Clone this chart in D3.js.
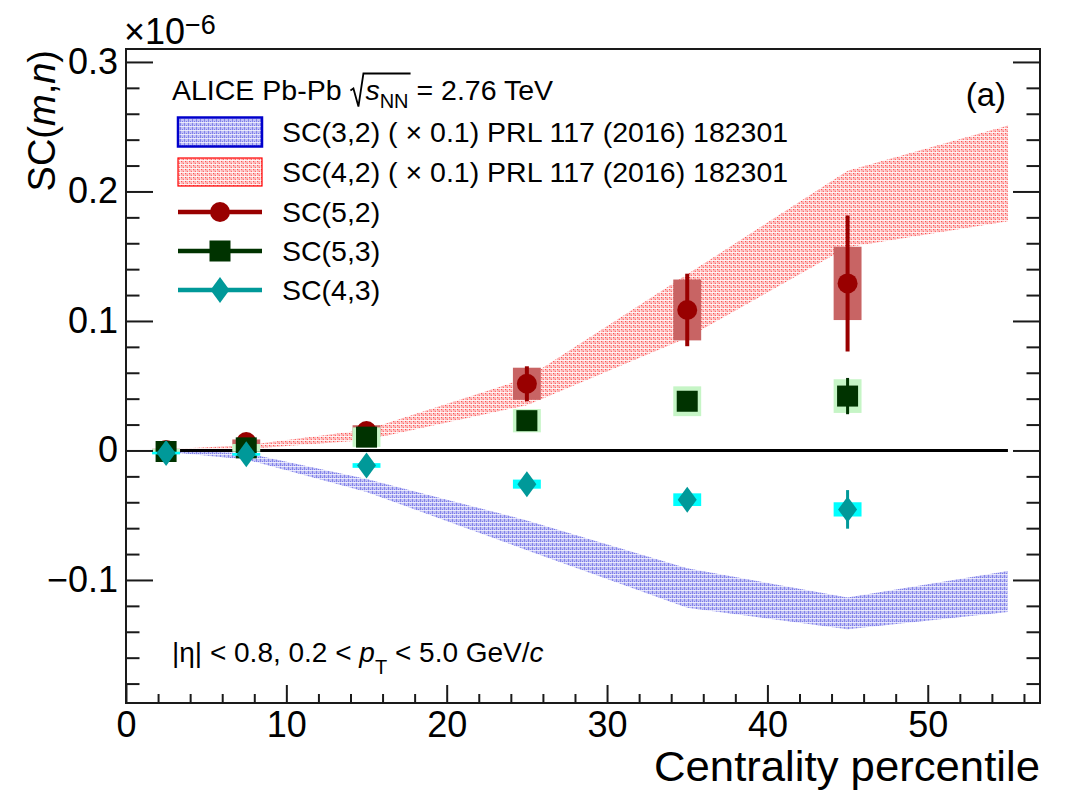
<!DOCTYPE html>
<html>
<head>
<meta charset="utf-8">
<script src="https://cdn.jsdelivr.net/npm/d3@7"></script>
<style>
  html, body { margin: 0; padding: 0; background: #fff; }
  svg { display: block; font-family: "Liberation Sans", Arial, Helvetica, sans-serif; }
</style>
</head>
<body>
<svg id="chart" width="1069" height="791"></svg>
<script>
// ---- measured symmetric cumulants (units of 1e-6) ----
const centrality = [2.5, 7.5, 15, 25, 35, 45];

const sc52     = [0.0003, 0.0065, 0.015, 0.0515, 0.1085, 0.129];
const sc52Stat = [0.001, 0.002, 0.003, 0.0135, 0.028, 0.0525];
const sc52Sys  = [0.001, 0.002, 0.0045, 0.0124, 0.0235, 0.0283];

const sc53     = [-0.0008, 0.002, 0.0103, 0.023, 0.038, 0.042];
const sc53Stat = [0.001, 0.001, 0.002, 0.003, 0.005, 0.014];
const sc53Sys  = [0.002, 0.003, 0.0075, 0.009, 0.0115, 0.013];

const sc43     = [-0.002, -0.003, -0.0116, -0.026, -0.038, -0.0455];
const sc43Stat = [0.001, 0.002, 0.003, 0.003, 0.004, 0.0149];
const sc43Sys  = [0.001, 0.001, 0.0018, 0.0035, 0.0049, 0.0055];

// ---- published SC(3,2) and SC(4,2), scaled by 0.1 (band edges) ----
const bandCentrality = [2.5, 7.5, 15, 25, 35, 45, 55];
const sc32Low  = [-0.001, -0.007, -0.032, -0.077, -0.1215, -0.138, -0.1247];
const sc32High = [0, -0.002, -0.022, -0.054, -0.091, -0.1136, -0.093];
const sc42Low  = [0, 0.001, 0.008, 0.035, 0.087, 0.157, 0.177];
const sc42High = [0.001, 0.004, 0.016, 0.056, 0.136, 0.216, 0.251];

// ---- axis ticks ----
const xMajorTicks = [0, 10, 20, 30, 40, 50];
const xTickLabels = ["0", "10", "20", "30", "40", "50"];
const yMajorTicks = [-0.1, 0, 0.1, 0.2, 0.3];
const yTickLabels = ["\u22120.1", "0", "0.1", "0.2", "0.3"];

const legendLabels = [
  "SC(3,2) ( \u00D7 0.1) PRL 117 (2016) 182301",
  "SC(4,2) ( \u00D7 0.1) PRL 117 (2016) 182301",
  "SC(5,2)",
  "SC(5,3)",
  "SC(4,3)"
];

// ---- layout ----
const FONT = '"Liberation Sans", Arial, Helvetica, sans-serif';
const frame = { left: 126, right: 1040, top: 49, bottom: 703 };
const svg = d3.select("#chart");

const x = d3.scaleLinear().domain([0, 57]).range([frame.left, frame.right]);
const y = d3.scaleLinear().domain([-0.195, 0.31]).range([frame.bottom, frame.top]);

const xMinorTicks = d3.range(1, 29).map(k => k * 2).filter(v => v % 10 !== 0);
const yMinorTicks = d3.range(-9, 16).filter(k => k % 5 !== 0).map(k => k * 0.02);

// ---- dotted fill patterns for the bands ----
const defs = svg.append("defs");
const redPat = defs.append("pattern").attr("id", "patRed")
  .attr("patternUnits", "userSpaceOnUse").attr("width", 4).attr("height", 4);
redPat.append("rect").attr("width", 4).attr("height", 4).attr("fill", "#fdb4b4");
redPat.append("rect").attr("x", 1).attr("y", 1).attr("width", 1).attr("height", 1).attr("fill", "#ff5050");
redPat.append("rect").attr("x", 3).attr("y", 3).attr("width", 1).attr("height", 1).attr("fill", "#ff6a6a");
redPat.append("rect").attr("width", 4).attr("height", 1).attr("fill", "#fff").attr("opacity", 0.8);
redPat.append("rect").attr("width", 1).attr("height", 4).attr("fill", "#fff").attr("opacity", 0.55);

const bluePat = defs.append("pattern").attr("id", "patBlue")
  .attr("patternUnits", "userSpaceOnUse").attr("width", 4).attr("height", 4);
bluePat.append("rect").attr("width", 4).attr("height", 4).attr("fill", "#c0c0f5");
bluePat.append("rect").attr("width", 1).attr("height", 4).attr("fill", "#6a6ae4").attr("opacity", 0.7);
bluePat.append("rect").attr("x", 2).attr("y", 1).attr("width", 1).attr("height", 1).attr("fill", "#7a7ae8");
bluePat.append("rect").attr("y", 2).attr("width", 4).attr("height", 1).attr("fill", "#fff").attr("opacity", 0.7);

// ---- bands ----
const bandArea = (lo, hi) => d3.area()
  .x((d, i) => x(bandCentrality[i]))
  .y0((d, i) => y(lo[i]))
  .y1((d, i) => y(hi[i]));

svg.append("path").attr("d", bandArea(sc32Low, sc32High)(bandCentrality))
  .attr("fill", "url(#patBlue)");
svg.append("path").attr("d", bandArea(sc42Low, sc42High)(bandCentrality))
  .attr("fill", "url(#patRed)");

// zero line across the measured range
svg.append("line")
  .attr("x1", x(d3.min(bandCentrality))).attr("x2", x(d3.max(bandCentrality)))
  .attr("y1", y(0)).attr("y2", y(0))
  .attr("stroke", "#000").attr("stroke-width", 3);

// ---- data series ----
const sysHalfWidth = 0.87;
const series = [
  { v: sc52, stat: sc52Stat, sys: sc52Sys, color: "#990000", box: "#c86464", marker: "circle", barW: 4 },
  { v: sc53, stat: sc53Stat, sys: sc53Sys, color: "#003300", box: "#c6f5c6", marker: "square", barW: 3 },
  { v: sc43, stat: sc43Stat, sys: sc43Sys, color: "#009999", box: "#00ffff", marker: "diamond", barW: 3 }
];

function drawMarker(g, type, cx, cy, color) {
  if (type === "circle") {
    g.append("circle").attr("cx", cx).attr("cy", cy).attr("r", 10).attr("fill", color);
  } else if (type === "square") {
    g.append("rect").attr("x", cx - 10.5).attr("y", cy - 10.5)
      .attr("width", 21).attr("height", 21).attr("fill", color);
  } else {
    g.append("path")
      .attr("d", `M${cx},${cy - 13}L${cx + 9.5},${cy}L${cx},${cy + 13}L${cx - 9.5},${cy}Z`)
      .attr("fill", color);
  }
}

series.forEach(s => {
  const g = svg.append("g");
  centrality.forEach((c, i) => {
    g.append("rect")
      .attr("x", x(c - sysHalfWidth)).attr("width", x(c + sysHalfWidth) - x(c - sysHalfWidth))
      .attr("y", y(s.v[i] + s.sys[i])).attr("height", y(s.v[i] - s.sys[i]) - y(s.v[i] + s.sys[i]))
      .attr("fill", s.box);
  });
  centrality.forEach((c, i) => {
    g.append("line")
      .attr("x1", x(c)).attr("x2", x(c))
      .attr("y1", y(s.v[i] + s.stat[i])).attr("y2", y(s.v[i] - s.stat[i]))
      .attr("stroke", s.color).attr("stroke-width", s.barW);
    drawMarker(g, s.marker, x(c), y(s.v[i]), s.color);
  });
});

// ---- axes (ticks pointing inwards) ----
function styleAxis(g) {
  g.select(".domain").remove();
  g.attr("font-family", FONT).attr("font-size", 36);
  g.selectAll("line").attr("stroke", "#1a1a1a").attr("stroke-width", 2);
  g.selectAll("text").attr("fill", "#000");
  return g;
}
styleAxis(svg.append("g").attr("transform", `translate(0,${frame.bottom})`)
  .call(d3.axisBottom(x).tickValues(xMajorTicks).tickSize(-18).tickPadding(8)
    .tickFormat((d, i) => xTickLabels[i])));
styleAxis(svg.append("g").attr("transform", `translate(0,${frame.bottom})`)
  .call(d3.axisBottom(x).tickValues(xMinorTicks).tickSize(-9).tickFormat("")));
styleAxis(svg.append("g").attr("transform", `translate(${frame.left},0)`)
  .call(d3.axisLeft(y).tickValues(yMajorTicks).tickSize(-27).tickPadding(8)
    .tickFormat((d, i) => yTickLabels[i])));
styleAxis(svg.append("g").attr("transform", `translate(${frame.left},0)`)
  .call(d3.axisLeft(y).tickValues(yMinorTicks).tickSize(-13.5).tickFormat("")));
styleAxis(svg.append("g").attr("transform", `translate(${frame.right},0)`)
  .call(d3.axisRight(y).tickValues(yMajorTicks).tickSize(-27).tickFormat("")));
styleAxis(svg.append("g").attr("transform", `translate(${frame.right},0)`)
  .call(d3.axisRight(y).tickValues(yMinorTicks).tickSize(-13.5).tickFormat("")));

svg.append("rect")
  .attr("x", frame.left).attr("y", frame.top)
  .attr("width", frame.right - frame.left).attr("height", frame.bottom - frame.top)
  .attr("fill", "none").attr("stroke", "#1a1a1a").attr("stroke-width", 2);

// ---- axis titles ----
svg.append("text")
  .attr("x", frame.right).attr("y", 781)
  .attr("text-anchor", "end").attr("font-size", 42.5).attr("font-family", FONT)
  .attr("textLength", 386).attr("lengthAdjust", "spacingAndGlyphs")
  .text("Centrality percentile");

const yTitle = svg.append("text")
  .attr("transform", `translate(55,${frame.top + 1}) rotate(-90)`)
  .attr("text-anchor", "end").attr("font-size", 38).attr("font-family", FONT);
yTitle.append("tspan").text("SC(");
yTitle.append("tspan").attr("font-style", "italic").text("m");
yTitle.append("tspan").text(",");
yTitle.append("tspan").attr("font-style", "italic").text("n");
yTitle.append("tspan").text(")");

// exponent label
const expo = svg.append("text").attr("x", 124).attr("y", 44)
  .attr("font-size", 36).attr("font-family", FONT);
expo.append("tspan").text("\u00D710");
expo.append("tspan").attr("dy", -10).attr("font-size", 27).text("\u22126");

// panel tag
svg.append("text").attr("x", 1006).attr("y", 106)
  .attr("text-anchor", "end").attr("font-size", 33).attr("font-family", FONT)
  .text("(a)");

// kinematic range
const kin = svg.append("text").attr("x", 172).attr("y", 662)
  .attr("font-size", 28).attr("font-family", FONT);
kin.append("tspan").text("|\u03B7| < 0.8, 0.2 < ");
kin.append("tspan").attr("font-style", "italic").text("p");
kin.append("tspan").attr("dy", 12).attr("font-size", 20).text("T");
kin.append("tspan").attr("dy", -12).text(" < 5.0 GeV/");
kin.append("tspan").attr("font-style", "italic").text("c");

// ---- legend ----
const legendX = 178, legendW = 84, legendTextX = 282;
const rowBase = [141.5, 182, 222, 261, 300];

const title = svg.append("text").attr("x", 172).attr("y", 99.5)
  .attr("font-size", 28.5).attr("font-family", FONT);
title.append("tspan").text("ALICE Pb-Pb ");
title.append("tspan").attr("dx", 16).attr("font-style", "italic").text("s");
title.append("tspan").attr("dy", 8).attr("font-size", 20).text("NN");
title.append("tspan").attr("dy", -8).text(" = 2.76 TeV");

// radical sign over s_NN
{
  const node = title.node();
  const full = node.textContent;
  const iS = full.indexOf("s", 10);
  const iEnd = iS + 2;
  const sx = node.getStartPositionOfChar(iS).x;
  const ex = node.getEndPositionOfChar(iEnd).x;
  const b = 99.5;
  svg.append("path")
    .attr("d", `M${sx - 15},${b - 9}L${sx - 12},${b - 11}L${sx - 7},${b + 7}L${sx - 2},${b - 26}L${ex + 2},${b - 26}`)
    .attr("fill", "none").attr("stroke", "#000").attr("stroke-width", 1.8);
}

// band entries
svg.append("rect").attr("x", legendX).attr("y", rowBase[0] - 24).attr("width", legendW).attr("height", 29)
  .attr("fill", "url(#patBlue)").attr("stroke", "#0000cc").attr("stroke-width", 2.5);
svg.append("rect").attr("x", legendX).attr("y", rowBase[1] - 24).attr("width", legendW).attr("height", 28)
  .attr("fill", "url(#patRed)").attr("stroke", "#ff0000").attr("stroke-width", 1.2);

// marker entries
series.forEach((s, k) => {
  const cy = rowBase[k + 2] - 10;
  const g = svg.append("g");
  g.append("line").attr("x1", legendX).attr("x2", legendX + legendW)
    .attr("y1", cy).attr("y2", cy).attr("stroke", s.color).attr("stroke-width", 4.5);
  drawMarker(g, s.marker, legendX + legendW / 2, cy, s.color);
});

legendLabels.forEach((t, k) => {
  svg.append("text").attr("x", legendTextX).attr("y", rowBase[k])
    .attr("font-size", 28.5).attr("font-family", FONT).text(t);
});
</script>
</body>
</html>
